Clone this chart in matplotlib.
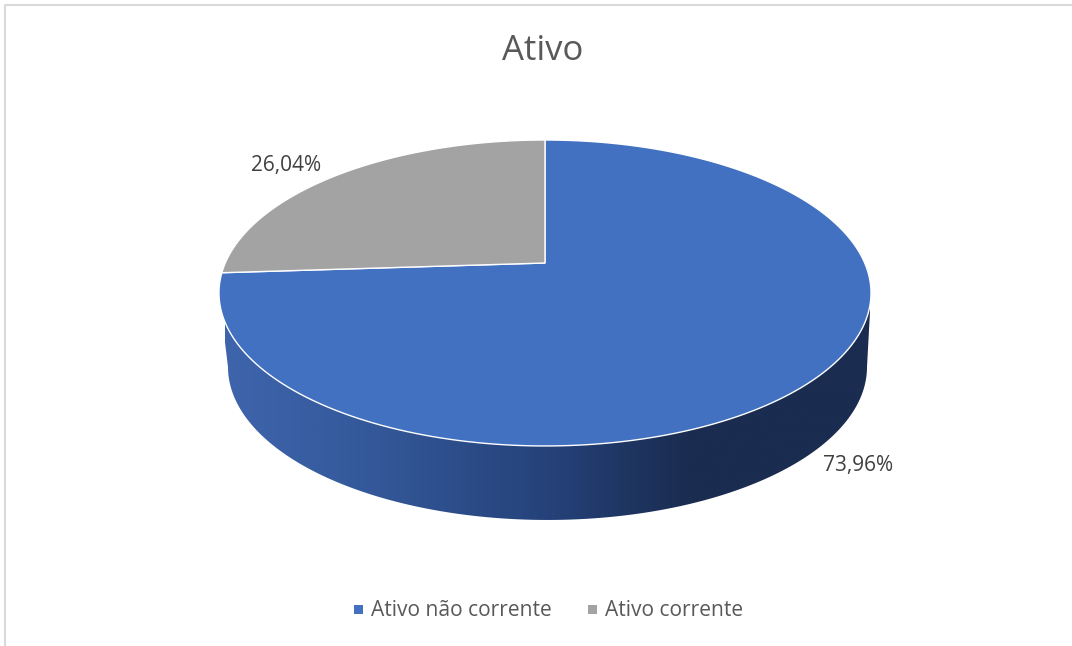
"""Ativo: perspective pie with extruded side, drawn on a pixel-sized axes."""
import matplotlib
matplotlib.use("Agg")
import matplotlib.pyplot as plt
import numpy as np
from matplotlib.colors import LinearSegmentedColormap
from matplotlib.patches import Polygon, Rectangle

TITLE = "Ativo"
CATEGORIES = ["Ativo não corrente", "Ativo corrente"]
SHARES = [73.96, 26.04]
SHARE_TEXT = ["73,96%", "26,04%"]
COLORS = ["#4271C1", "#A3A3A3"]

W, H = 1072, 646
TILT = 0.196
plt.rcParams["font.family"] = ["Open Sans", "DejaVu Sans"]


def project(t, drop=0.0, shrink=1.0, shift=0.0):
    """Angle clockwise from 12 o'clock -> screen, tilted view. Apex at (545, 263)."""
    u, v = np.sin(t), np.cos(t)
    w = 1 + TILT * v
    return 545 + shift + shrink * 319.7 * u / w, 263 - 147.1 * v / w + drop


def slice_xy(start, stop):
    x, y = project(np.linspace(start, stop, 200) * 2 * np.pi)
    return np.column_stack([np.r_[545, x], np.r_[263, y]])


fig = plt.figure(figsize=(W / 100, H / 100), dpi=100)
ax = fig.add_axes([0, 0, 1, 1])

# chart frame
ax.plot([4.5, 4.5, W], [H, 4.5, 4.5], color="#D9D9D9", lw=1.5)

# side wall: lower rim left to right, then back over the upper rim
edge = np.arccos(-TILT)
lower = np.linspace(2 * np.pi - edge, edge, 200)
upper = np.linspace(edge, -edge, 200)
bx, by = project(lower, drop=74, shrink=0.98, shift=2.5)
tx, ty = project(upper)
wall = Polygon(np.column_stack([np.r_[bx, tx], np.r_[by, ty]]), closed=True, fc="none", ec="none")
ax.add_patch(wall)
side_cmap = LinearSegmentedColormap.from_list(
    "side", [(0, "#3E64AC"), (0.2, "#355A9C"), (0.5, "#25427A"), (0.72, "#1A2C50"), (1, "#1A2C50")])
grad = ax.imshow(np.linspace(0, 1, 512)[None, :], cmap=side_cmap, aspect="auto",
                 extent=[225, 870, 530, 260], zorder=1)
grad.set_clip_path(wall)

# top face, shares run clockwise from 12 o'clock
stops = np.r_[0, np.cumsum(SHARES)] / sum(SHARES)
for start, stop, c in zip(stops[:-1], stops[1:], COLORS):
    ax.add_patch(Polygon(slice_xy(start, stop), closed=True, fc=c, ec="white", lw=1.0, zorder=2))

# labels
ax.text(858, 465, SHARE_TEXT[0], ha="center", va="center", fontsize=15.05, color="#404040", zorder=3)
ax.text(286, 165, SHARE_TEXT[1], ha="center", va="center", fontsize=15.05, color="#404040", zorder=3)
ax.text(543, 51, TITLE, ha="center", va="center", fontsize=25, color="#595959")

# legend
for x0, txt, c in zip([354, 588], CATEGORIES, COLORS):
    ax.add_patch(Rectangle((x0, 604.5), 9, 9.5, fc=c, ec="none"))
    ax.text(x0 + 17, 610, txt, ha="left", va="center", fontsize=15.15, color="#595959")

ax.set_xlim(0, W)
ax.set_ylim(H, 0)
ax.axis("off")
fig.savefig("out.png", dpi=100)
